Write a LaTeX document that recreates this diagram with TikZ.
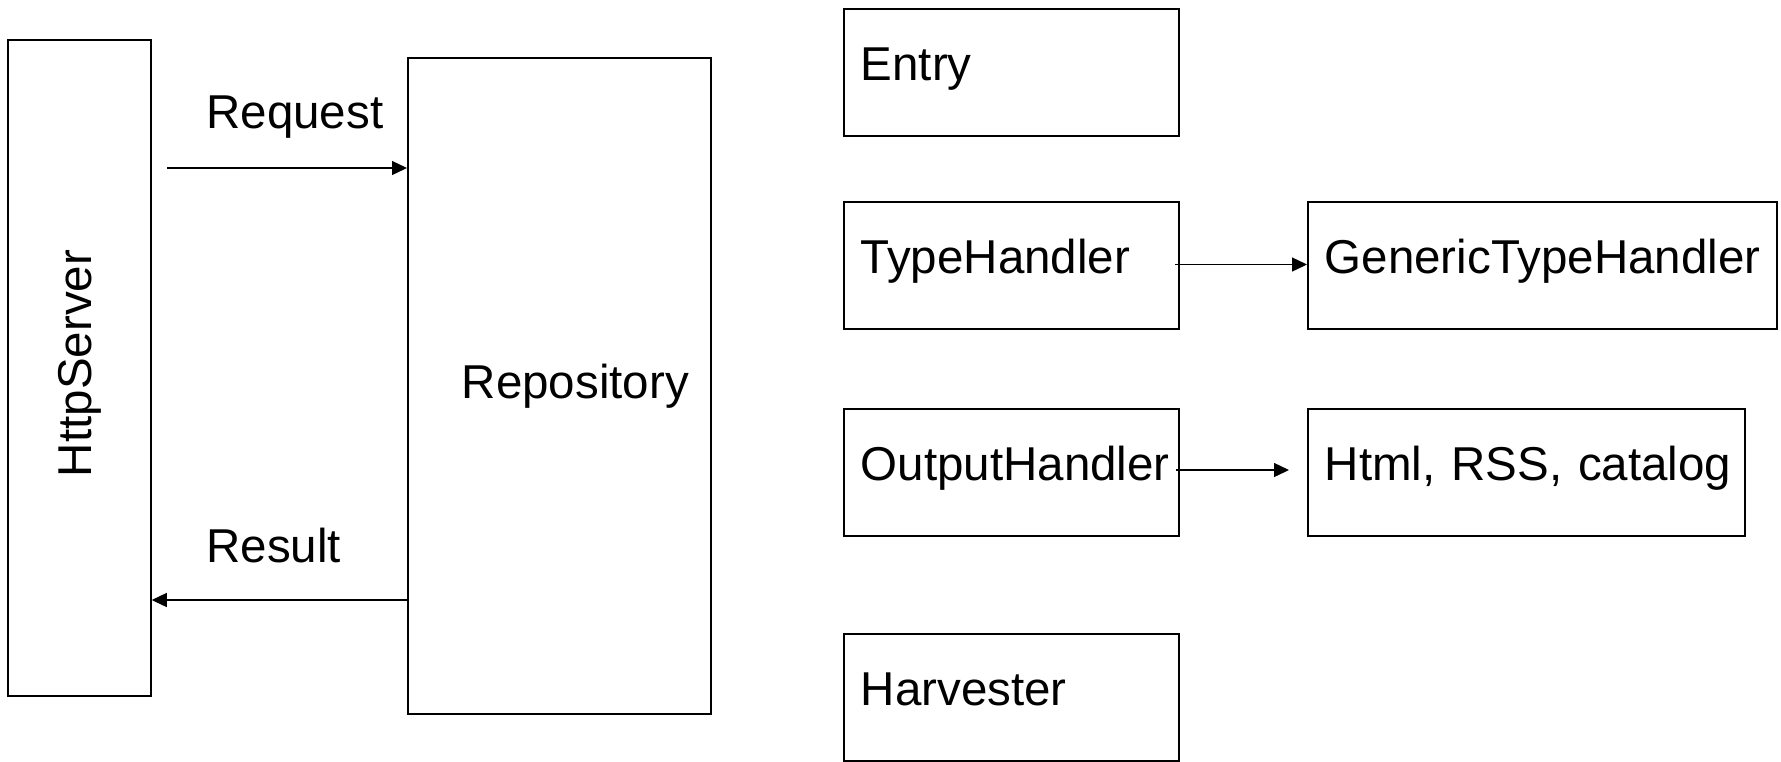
\documentclass[tikz,border=0pt]{standalone}
\usepackage{fontspec}
\setmainfont{Liberation Sans}
\usetikzlibrary{arrows.meta}

\tikzset{
	unit/.style={shape=rectangle, draw=black, line width=0.75pt, align=left, inner ysep=0pt,
		font=\fontsize{23.75pt}{28pt}\selectfont, execute at begin node={\hyphenpenalty=10000}},
	part/.style={unit, anchor=north west, inner xsep=8.5pt, minimum height=63.5pt,
		text height=20pt, text depth=12pt},
	tag/.style={inner sep=0pt, font=\fontsize{23.75pt}{28pt}\selectfont},
	link/.style={line width=0.65pt, -{Triangle[length=7.5pt, width=7pt]}}
}

\begin{document}
\begin{tikzpicture}[x=0.5pt, y=-0.5pt]
	\useasboundingbox (0,0) rectangle (1781,761);
	
	\node[unit, rotate=90, minimum width=328pt, minimum height=71.5pt, inner xsep=109.5pt, text width=109pt] (server) at (79.5, 368) {HttpServer};
	\node[unit, anchor=north west, minimum height=328pt, inner xsep=27pt, text width=97.5pt] (repo) at (407, 57) {Repository};
	
	\node[tag, anchor=base west] (request) at (206, 128) {Request};
	\node[tag, anchor=base west] (result) at (206, 562) {Result};
	
	\node[part, text width=150.5pt] (entry) at (843, 8)     {Entry};
	\node[part, text width=150.5pt] (type) at (843, 201)    {TypeHandler};
	\node[part, text width=150.5pt] (output) at (843, 408)  {OutputHandler};
	\node[part, text width=150.5pt] (harvest) at (843, 633) {Harvester};
	\node[part, text width=217.5pt] (generic) at (1307, 201) {GenericTypeHandler};
	\node[part, text width=201.5pt] (html) at (1307, 408)    {Html,~RSS,~catalog};
	
	\coordinate (reqfrom) at (167, 168);
	\coordinate (resfrom) at (407, 600);
	\coordinate (typefrom) at (1175, 264.5);
	\coordinate (outfrom) at (1176, 470);
	\coordinate (outto) at (1289, 470);
	
	\path[link] (reqfrom) edge (reqfrom -| repo.west);
	\path[link] (resfrom) edge (resfrom -| server.south);
	\path[link] (typefrom) edge (typefrom -| generic.west);
	\path[link] (outfrom) edge (outto);
	
\end{tikzpicture}
\end{document}
